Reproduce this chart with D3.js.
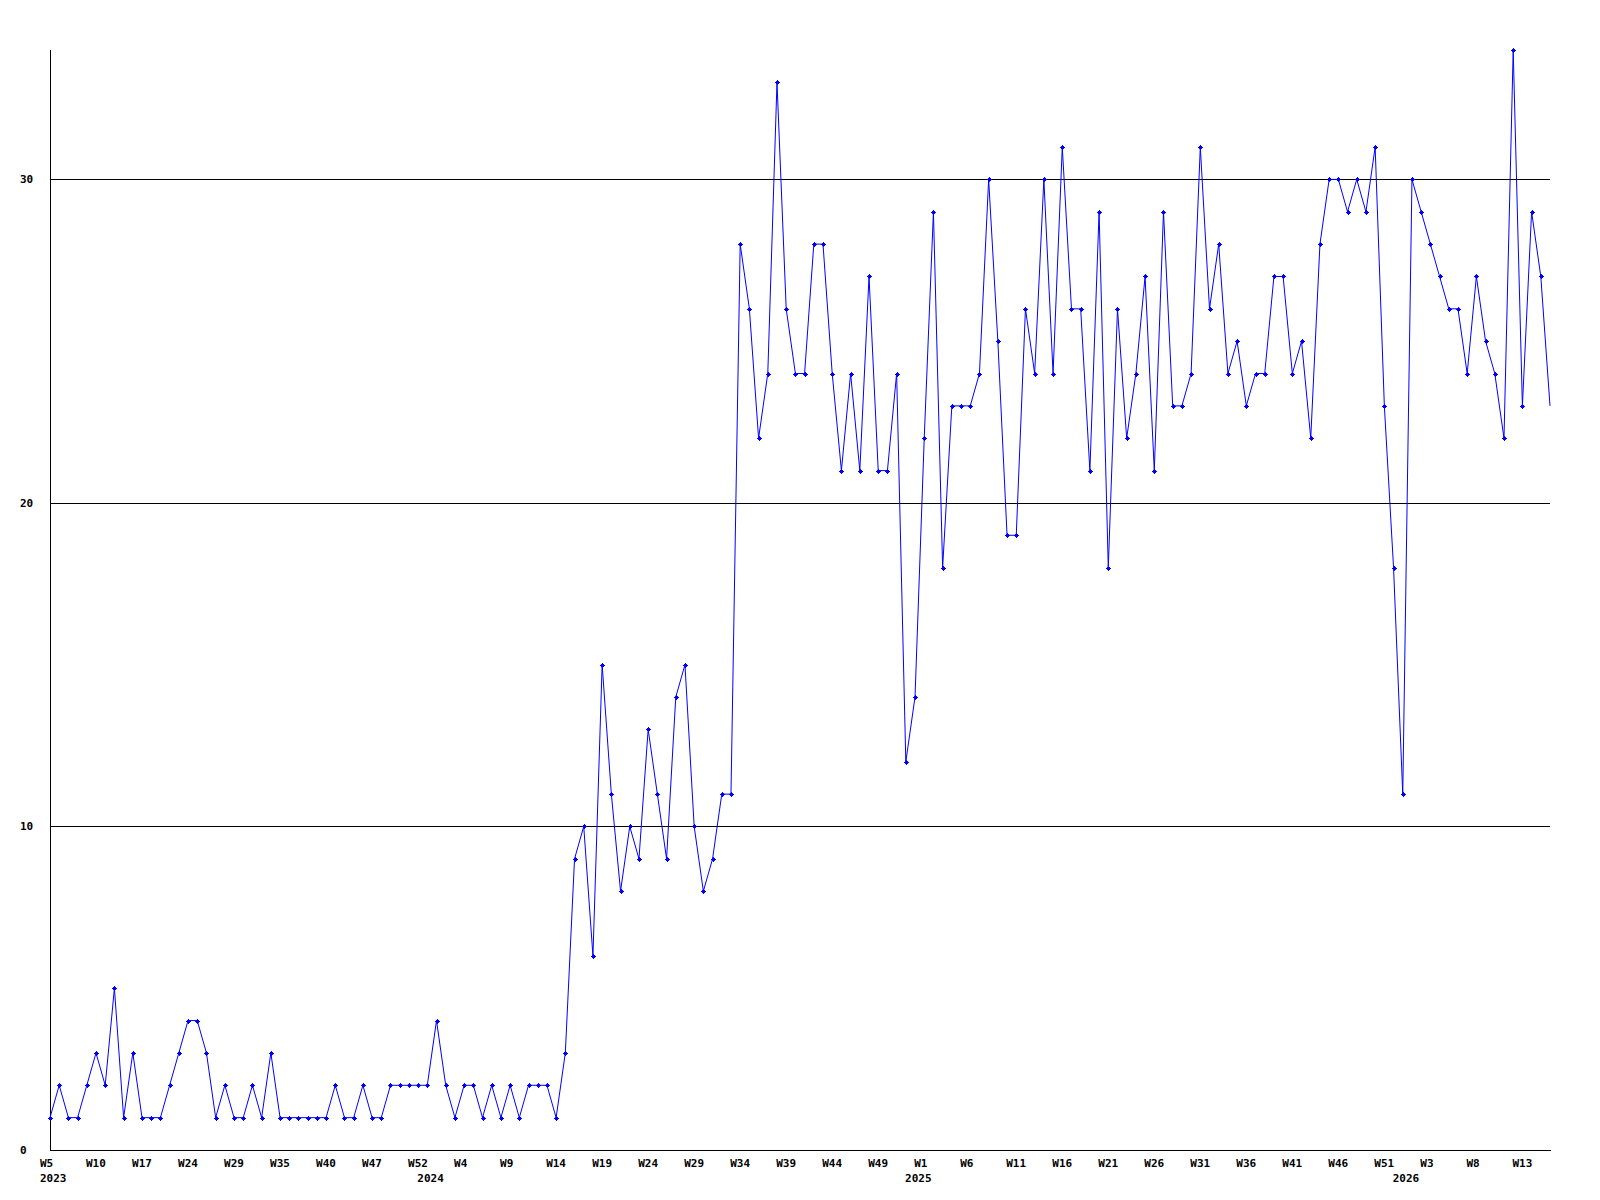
<!DOCTYPE html>
<html lang="en">
<head>
    <meta charset="UTF-8">
    <title>Weekly count</title>
    <script src="https://d3js.org/d3.v7.min.js"></script>
    <style>
        html, body{
            margin:0;
            background:#fff;
        }
        .grid line{
            stroke:#000;
            shape-rendering: crispEdges;
        }
        .lbl{
            font-family: "DejaVu Sans Mono", monospace;
            font-weight: bold;
            font-size: 11px;
            fill:#000;
        }
        .line{
            fill:none;
            stroke:#0000ff;
            stroke-width:1;
        }
        .dot{
            fill:#0000ff;
            shape-rendering: crispEdges;
        }
    </style>
</head>
<body>
<div id="chart"></div>
<script>
    // one value per plotted week, 2023 W5 .. 2026 W15
    var values = [1,2,1,1,2,3,2,5,1,3,1,1,1,2,3,4,4,3,1,2,1,1,2,1,3,1,1,1,1,1,1,2,1,1,2,1,1,2,2,2,2,2,4,2,1,2,2,1,2,1,2,1,2,2,2,1,3,
        9,10,6,15,11,8,10,9,13,11,9,14,15,10,8,9,11,11,
        28,26,22,24,33,26,24,24,28,28,24,21,24,21,27,21,21,24,12,14,22,29,18,23,23,23,24,30,25,
        19,19,26,24,30,24,31,26,26,21,29,18,26,22,24,27,21,29,23,23,24,31,26,28,24,25,23,24,24,27,
        27,24,25,22,28,30,30,29,30,29,31,23,18,11,30,29,28,27,26,26,24,27,25,24,22,34,23,29,27,23];

    // week labels shown under every 5th point
    var weekLabels = ["W5","W10","W17","W24","W29","W35","W40","W47","W52","W4","W9","W14","W19","W24","W29",
        "W34","W39","W44","W49","W1","W6","W11","W16","W21","W26","W31","W36","W41","W46","W51","W3","W8","W13"];
    var weekIdx = weekLabels.map(function(d, i){ return i * 5; });

    var yearLabels = ["2023","2024","2025","2026"];
    var yearIdx = [0, 41, 94, 147];

    var yTicks = [0, 10, 20, 30];

    var margin = {top: 50, right: 50, bottom: 50, left: 50};
    var W = 1600, H = 1200;
    var n = values.length;

    var xScale = d3.scaleLinear()
        .domain([0, n - 1])
        .range([margin.left, W - margin.right]);

    var yScale = d3.scaleLinear()
        .domain([0, d3.max(values)])
        .range([H - margin.bottom, margin.top]);

    var svg = d3.select("#chart").append("svg")
        .attr("width", W)
        .attr("height", H);

    // horizontal grid lines at the tick values
    svg.append("g")
        .attr("class", "grid")
        .attr("transform", "translate(" + margin.left + ",0)")
        .call(d3.axisLeft(yScale).tickValues(yTicks.slice(1)).tickSize(-(W - margin.left - margin.right)).tickFormat(""))
        .call(function(g){ g.select(".domain").remove(); });

    // y axis line
    svg.append("line")
        .attr("x1", margin.left + 0.5).attr("x2", margin.left + 0.5)
        .attr("y1", margin.top).attr("y2", H - margin.bottom)
        .attr("stroke", "#000")
        .attr("shape-rendering", "crispEdges");

    // x axis line
    svg.append("line")
        .attr("x1", margin.left).attr("x2", W - margin.right + 1)
        .attr("y1", yScale(0) + 0.5).attr("y2", yScale(0) + 0.5)
        .attr("stroke", "#000")
        .attr("shape-rendering", "crispEdges");

    svg.selectAll(".ylbl")
        .data(yTicks)
        .enter().append("text")
        .attr("class", "lbl")
        .attr("x", 20)
        .attr("y", function(d){ return yScale(d); })
        .attr("dy", "0.35em")
        .text(function(d){ return d; });

    svg.selectAll(".wlbl")
        .data(weekLabels)
        .enter().append("text")
        .attr("class", "lbl")
        .attr("x", function(d, i){ return xScale(weekIdx[i]) - 10; })
        .attr("y", H - margin.bottom + 17)
        .text(function(d){ return d; });

    svg.selectAll(".ylab")
        .data(yearLabels)
        .enter().append("text")
        .attr("class", "lbl")
        .attr("x", function(d, i){ return xScale(yearIdx[i]) - 10; })
        .attr("y", H - margin.bottom + 32)
        .text(function(d){ return d; });

    var valueLine = d3.line()
        .x(function(d, i){ return xScale(i); })
        .y(function(d){ return yScale(d); });

    svg.append("path")
        .datum(values)
        .attr("class", "line")
        .attr("d", valueLine);

    // small cross markers, the last point has none
    svg.selectAll(".dot")
        .data(values.slice(0, n - 1))
        .enter().append("path")
        .attr("class", "dot")
        .attr("transform", function(d, i){ return "translate(" + Math.round(xScale(i)) + "," + Math.round(yScale(d)) + ")"; })
        .attr("d", "M-2.5,-0.5h5v1h-5z M-0.5,-2.5h1v5h-1z M-1.5,-1.5h3v3h-3z");
</script>
</body>
</html>
